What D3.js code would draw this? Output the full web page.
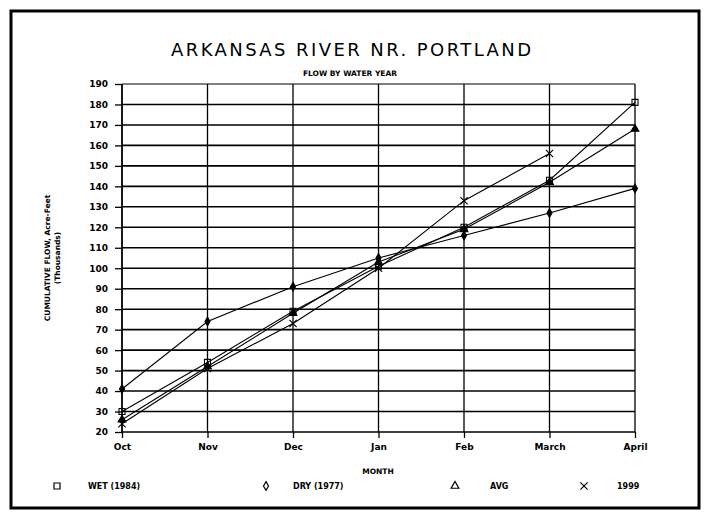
<!DOCTYPE html>
<html>
<head>
<meta charset="utf-8">
<script src="https://cdnjs.cloudflare.com/ajax/libs/d3/7.8.5/d3.min.js"></script>
<style>
  body { margin: 0; background: #fff; }
  text { fill: #000; }
</style>
</head>
<body>
<div id="chart"></div>
<script>
// months along the water year
var months = ["Oct", "Nov", "Dec", "Jan", "Feb", "March", "April"];

// cumulative flow, thousands of acre-feet
var wet1984 = [30, 54, 79, 101, 120, 143, 181];
var dry1977 = [41, 74, 91, 105, 116, 127, 139];
var avgFlow = [26, 52, 78, 103, 119, 142, 168];
var year1999 = [24, 51, 73, 100, 133, 156];

var yTicks = d3.range(20, 191, 10);

var seriesNames = ["WET (1984)", "DRY (1977)", "AVG", "1999"];

var W = 706, H = 520;
var margin = {top: 84, right: 71, bottom: 88, left: 122},
    width = W - margin.left - margin.right,
    height = H - margin.top - margin.bottom;

var svg = d3.select("#chart").append("svg")
    .attr("width", W)
    .attr("height", H);

// outer frame
svg.append("rect")
    .attr("x", 11).attr("y", 11)
    .attr("width", 688).attr("height", 497)
    .attr("fill", "none")
    .attr("stroke", "#000")
    .attr("stroke-width", 3);

svg.append("text")
    .attr("x", 351).attr("y", 56)
    .attr("text-anchor", "middle")
    .style("font-family", "DejaVu Sans")
    .style("font-size", "18px")
    .attr("textLength", 360)
    .text("ARKANSAS RIVER NR. PORTLAND");

svg.append("text")
    .attr("x", 350).attr("y", 76)
    .attr("text-anchor", "middle")
    .style("font-family", "DejaVu Sans")
    .style("font-weight", "bold")
    .style("font-size", "7.5px")
    .text("FLOW BY WATER YEAR");

var g = svg.append("g")
    .attr("transform", "translate(" + margin.left + "," + margin.top + ")");

var x = d3.scalePoint()
    .domain(months)
    .range([0, width]);

var y = d3.scaleLinear()
    .domain([20, 190])
    .range([height, 0]);

// grid
g.selectAll(".hgrid").data(yTicks).enter().append("line")
    .attr("x1", 0).attr("x2", width)
    .attr("y1", function(d) { return y(d); })
    .attr("y2", function(d) { return y(d); })
    .attr("stroke", "#000")
    .attr("stroke-width", function(d) { return d == 190 ? 1 : 1.6; });

g.selectAll(".vgrid").data(months).enter().append("line")
    .attr("x1", function(d) { return x(d); })
    .attr("x2", function(d) { return x(d); })
    .attr("y1", 0).attr("y2", height)
    .attr("stroke", "#000")
    .attr("stroke-width", function(d, i) { return i == 0 ? 1.8 : 1.3; });

var yAxis = d3.axisLeft(y)
    .tickValues(yTicks)
    .tickSize(7)
    .tickPadding(7);

var xAxis = d3.axisBottom(x)
    .tickSize(6)
    .tickPadding(6);

g.append("g")
    .attr("class", "axisLeft")
    .call(yAxis);

g.append("g")
    .attr("class", "x-axis")
    .attr("transform", "translate(0," + height + ")")
    .call(xAxis);

g.selectAll(".domain").remove();
g.selectAll(".tick line").attr("stroke", "#000").attr("stroke-width", 1.3);
g.selectAll(".tick text")
    .style("font-family", "DejaVu Sans")
    .style("font-weight", "bold")
    .style("font-size", "9px");

svg.append("text")
    .attr("transform", "translate(50," + (margin.top + height / 2) + ") rotate(-90)")
    .attr("text-anchor", "middle")
    .style("font-family", "DejaVu Sans")
    .style("font-weight", "bold")
    .style("font-size", "7.5px")
    .text("CUMULATIVE FLOW, Acre-Feet");

svg.append("text")
    .attr("transform", "translate(60," + (margin.top + height / 2) + ") rotate(-90)")
    .attr("text-anchor", "middle")
    .style("font-family", "DejaVu Sans")
    .style("font-weight", "bold")
    .style("font-size", "7.5px")
    .text("(Thousands)");

svg.append("text")
    .attr("x", 378).attr("y", 474)
    .attr("text-anchor", "middle")
    .style("font-family", "DejaVu Sans")
    .style("font-weight", "bold")
    .style("font-size", "7.5px")
    .text("MONTH");

// lines + markers
var line = d3.line()
    .x(function(d, i) { return x(months[i]); })
    .y(function(d) { return y(d); });

var allSeries = [wet1984, dry1977, avgFlow, year1999];
var shapes = [
  d3.symbol().type(d3.symbolSquare).size(36),
  d3.symbol().type(d3.symbolDiamond).size(22),
  d3.symbol().type(d3.symbolTriangle).size(26),
  d3.symbol().type(d3.symbolTimes).size(36)
];
var shapeFill = ["none", "#000", "#000", "none"];

allSeries.forEach(function(s, k) {
  g.append("path")
      .datum(s)
      .attr("d", line)
      .attr("fill", "none")
      .attr("stroke", "#000")
      .attr("stroke-width", 1.1);

  g.selectAll(".m" + k).data(s).enter().append("path")
      .attr("transform", function(d, i) { return "translate(" + x(months[i]) + "," + y(d) + ")"; })
      .attr("d", shapes[k])
      .attr("fill", shapeFill[k])
      .attr("stroke", "#000")
      .attr("stroke-width", 1.1);
});

// legend
var legX = [57, 266, 455, 584],
    legTextX = [88, 293, 490, 617];
var legendY = 489;

seriesNames.forEach(function(name, k) {
  svg.append("path")
      .attr("transform", "translate(" + legX[k] + "," + (legendY - 3) + ")")
      .attr("d", shapes[k])
      .attr("fill", "none")
      .attr("stroke", "#000")
      .attr("stroke-width", 1.2);
  svg.append("text")
      .attr("x", legTextX[k]).attr("y", legendY)
      .style("font-family", "DejaVu Sans")
      .style("font-weight", "bold")
      .style("font-size", "8px")
      .text(name);
});
</script>
</body>
</html>
